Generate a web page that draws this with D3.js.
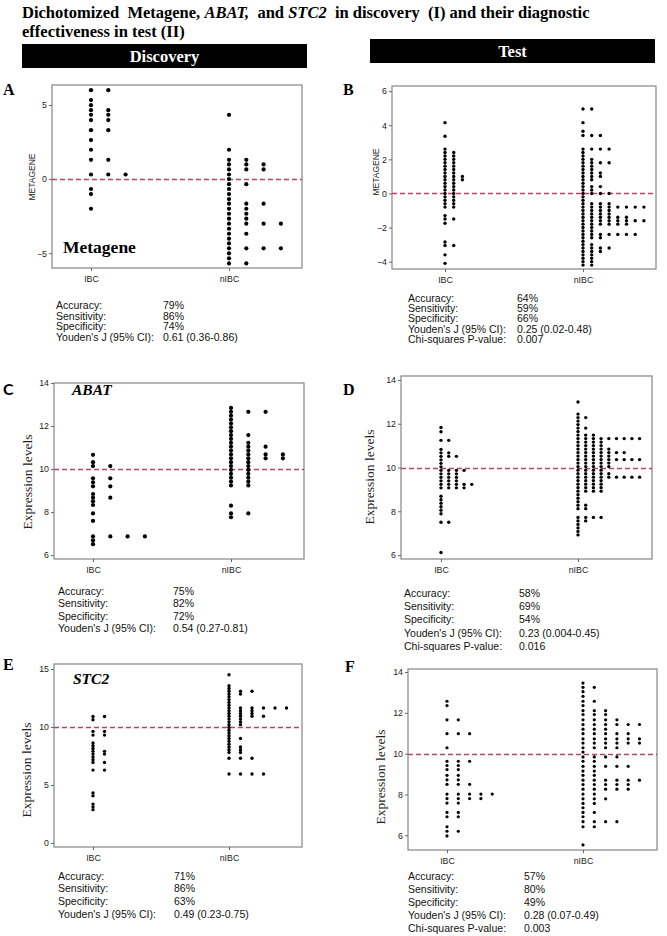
<!DOCTYPE html>
<html>
<head>
<meta charset="utf-8">
<script src="https://cdn.jsdelivr.net/npm/d3@7"></script>
<style>
  body { margin: 0; background: #fff; }
  text { white-space: pre; }
</style>
</head>
<body>
<svg id="fig"></svg>
<script>
const groups = ["IBC", "nIBC"];
const statLabels = ["Accuracy:", "Sensitivity:", "Specificity:", "Youden's J (95% CI):", "Chi-squares P-value:"];

// each dot plot row: [bin value, number of dots side by side]
const metaDiscIBC = [[6.0,2],[5.33,1],[4.99,1],[4.65,2],[4.34,2],[3.98,2],[3.30,2],[2.63,1],[1.98,1],[1.30,2],[0.31,3],[-0.67,1],[-1.01,1],[-2.0,1]];
const metaDiscNIBC = [[4.34,1],[1.98,1],[1.30,2],[0.99,3],[0.65,3],[0.31,1],[0.0,1],[-0.34,2],[-0.67,1],[-1.01,1],[-1.35,1],[-1.66,3],[-2.0,2],[-2.34,2],[-2.67,2],[-3.01,4],[-3.35,1],[-3.69,2],[-4.02,1],[-4.34,1],[-4.67,4],[-5.01,1],[-5.35,1],[-5.69,2]];
const metaTestIBC = [[4.15,1],[3.35,1],[2.6,1],[2.4,2],[2.2,2],[2.0,2],[1.8,2],[1.6,2],[1.4,2],[1.2,2],[1.0,3],[0.8,3],[0.6,2],[0.4,2],[0.2,2],[0.0,2],[-0.2,2],[-0.4,2],[-0.6,2],[-0.8,2],[-1.3,1],[-1.5,2],[-1.75,1],[-2.85,1],[-3.05,2],[-3.6,1],[-4.1,1]];
const metaTestNIBC = [[4.95,2],[4.15,1],[3.65,1],[3.4,3],[2.6,4],[2.4,1],[2.2,1],[2.0,2],[1.8,4],[1.6,2],[1.4,2],[1.2,3],[1.0,3],[0.8,2],[0.6,1],[0.4,3],[0.2,2],[0.0,4],[-0.2,1],[-0.4,1],[-0.6,4],[-0.8,8],[-1.0,4],[-1.2,4],[-1.4,6],[-1.6,8],[-1.8,6],[-2.0,2],[-2.2,2],[-2.4,7],[-2.6,3],[-2.8,1],[-3.0,2],[-3.2,4],[-3.4,3],[-3.6,2],[-3.8,2],[-4.0,2],[-4.2,2]];

const abatDiscIBC = [[10.66,1],[10.32,1],[10.14,2],[9.57,2],[9.38,1],[9.2,2],[8.84,1],[8.67,2],[8.5,1],[8.33,1],[7.94,1],[7.59,1],[6.87,4],[6.69,1],[6.51,1]];
const abatDiscNIBC = [[12.84,1],[12.66,3],[12.48,1],[12.30,1],[12.12,1],[11.94,1],[11.76,1],[11.58,2],[11.40,1],[11.22,2],[11.04,3],[10.86,2],[10.68,4],[10.50,4],[10.32,2],[10.14,2],[9.96,2],[9.78,2],[9.60,2],[9.42,2],[9.24,2],[8.3,1],[7.94,2],[7.76,1]];
const abatTestIBC = [[11.83,1],[11.63,1],[11.24,2],[10.83,1],[10.67,2],[10.51,3],[10.35,1],[10.19,1],[10.03,1],[9.87,4],[9.71,3],[9.55,3],[9.39,3],[9.23,5],[9.07,4],[8.69,1],[8.53,1],[8.37,1],[8.21,1],[8.05,1],[7.89,1],[7.5,2],[6.12,1]];
const abatTestNIBC = [[12.99,1],[12.44,1],[12.28,2],[12.12,1],[11.96,1],[11.80,2],[11.64,1],[11.48,3],[11.32,9],[11.16,4],[11.00,4],[10.84,5],[10.68,7],[10.52,5],[10.36,9],[10.20,5],[10.04,5],[9.88,4],[9.72,5],[9.56,9],[9.40,4],[9.24,4],[9.08,4],[8.92,4],[8.76,1],[8.60,1],[8.44,1],[8.28,2],[8.12,2],[7.72,4],[7.56,2],[7.40,1],[7.24,1],[7.08,1],[6.92,1]];

const stc2DiscIBC = [[10.9,2],[10.62,1],[9.62,2],[9.3,2],[8.62,1],[8.38,1],[8.14,1],[7.9,2],[7.66,2],[7.42,1],[7.18,1],[6.94,2],[6.28,2],[4.3,1],[4.06,1],[3.35,1],[3.11,1],[2.87,1]];
const stc2DiscNIBC = [[14.5,1],[13.56,1],[13.32,1],[13.08,3],[12.84,2],[12.60,1],[12.36,1],[12.12,1],[11.88,1],[11.64,6],[11.40,3],[11.16,3],[10.92,4],[10.68,2],[10.44,2],[10.20,2],[9.96,1],[9.72,1],[9.48,1],[9.24,1],[9.00,2],[8.76,1],[8.52,1],[8.28,2],[8.04,2],[7.80,2],[7.3,3],[5.95,4]];
const stc2TestIBC = [[12.57,1],[12.36,1],[11.66,2],[10.98,3],[10.29,1],[9.63,3],[9.42,2],[9.22,2],[8.94,2],[8.72,2],[8.5,3],[8.02,5],[7.8,4],[7.58,2],[7.12,2],[6.91,2],[6.42,1],[6.2,2],[5.97,1]];
const stc2TestNIBC = [[13.46,1],[13.25,2],[13.04,1],[12.81,1],[12.57,2],[12.36,1],[12.11,3],[11.92,3],[11.66,4],[11.43,6],[11.2,3],[10.98,5],[10.73,6],[10.52,6],[10.29,4],[10.08,1],[9.84,4],[9.63,2],[9.38,5],[9.15,2],[8.94,2],[8.7,6],[8.49,5],[8.26,5],[8.02,2],[7.79,3],[7.56,2],[7.35,1],[7.12,2],[6.91,1],[6.67,4],[6.42,2],[5.53,1]];

const statsA = ["79%", "86%", "74%", "0.61 (0.36-0.86)"];
const statsB = ["64%", "59%", "66%", "0.25 (0.02-0.48)", "0.007"];
const statsC = ["75%", "82%", "72%", "0.54 (0.27-0.81)"];
const statsD = ["58%", "69%", "54%", "0.23 (0.004-0.45)", "0.016"];
const statsE = ["71%", "86%", "63%", "0.49 (0.23-0.75)"];
const statsF = ["57%", "80%", "49%", "0.28 (0.07-0.49)", "0.003"];

const ticksMeta = [-5, 0, 5];
const ticksMetaTest = [-4, -2, 0, 2, 4, 6];
const ticksExpr = [6, 8, 10, 12, 14];
const ticksStc2 = [0, 5, 10, 15];

const serif = "'Liberation Serif', 'DejaVu Serif', serif";
const sans = "'Liberation Sans', Arial, sans-serif";

const panels = [
  { letter: "A", lx: 3, ly: 95, rows: [metaDiscIBC, metaDiscNIBC], frame: [52, 85, 302, 268], dom: [-6.0, 6.35],
    ticks: ticksMeta, cut: 0, centers: [91, 229], gap: 17.3, r: 2.1, ylab: "METAGENE", ylx: 32, yly: 177,
    stats: statsA, sx: [56, 163], sy: 309, sdy: 10.7,
    tag: { text: "Metagene", x: 63, y: 253, size: 17.5, italic: false } },
  { letter: "B", lx: 343, ly: 95, rows: [metaTestIBC, metaTestNIBC], frame: [392, 86, 656, 269], dom: [-4.43, 6.3],
    ticks: ticksMetaTest, cut: 0, centers: [445, 583], gap: 8.7, r: 1.7, ylab: "METAGENE", ylx: 376, yly: 172,
    stats: statsB, sx: [408, 517], sy: 301.5, sdy: 10.4 },
  { letter: "C", lx: 3, ly: 395, rows: [abatDiscIBC, abatDiscNIBC], frame: [54, 383, 304, 559], dom: [5.82, 14],
    ticks: ticksExpr, cut: 10, centers: [93, 231], gap: 17.3, r: 2.1, ylab: "Expression levels", ylx: 27, yly: 482,
    stats: statsC, sx: [58, 173], sy: 595, sdy: 12.3,
    tag: { text: "ABAT", x: 72, y: 395, size: 15.5, italic: true } },
  { letter: "D", lx: 343, ly: 395, rows: [abatTestIBC, abatTestNIBC], frame: [401, 376, 652, 559], dom: [5.82, 14.18],
    ticks: ticksExpr, cut: 10, centers: [441, 578], gap: 7.7, r: 1.7, ylab: "Expression levels", ylx: 369, yly: 477,
    stats: statsD, sx: [404, 519], sy: 597, sdy: 13.2 },
  { letter: "E", lx: 3, ly: 670, rows: [stc2DiscIBC, stc2DiscNIBC], frame: [54, 664, 302, 847], dom: [-0.35, 15.43],
    ticks: ticksStc2, cut: 10, centers: [93, 229], gap: 11.5, r: 1.7, ylab: "Expression levels", ylx: 26, yly: 770,
    stats: statsE, sx: [58, 174], sy: 879.5, sdy: 12.7,
    tag: { text: "STC2", x: 73, y: 684, size: 15.5, italic: true } },
  { letter: "F", lx: 345, ly: 672, rows: [stc2TestIBC, stc2TestNIBC], frame: [408, 669, 657, 850], dom: [5.28, 14.15],
    ticks: ticksExpr, cut: 10, centers: [447, 583], gap: 11.3, r: 1.6, ylab: "Expression levels", ylx: 380, yly: 777,
    stats: statsF, sx: [408, 524], sy: 879.5, sdy: 13.2 }
];

const svg = d3.select("#fig").attr("width", 667).attr("height", 936);

// title
const title = svg.append("g").attr("font-family", serif).attr("font-weight", "bold").attr("font-size", 16.5);
const t1 = title.append("text").attr("x", 22).attr("y", 18);
t1.append("tspan").text("Dichotomized  Metagene, ");
t1.append("tspan").attr("font-style", "italic").text("ABAT,");
t1.append("tspan").text("  and ");
t1.append("tspan").attr("font-style", "italic").text("STC2");
t1.append("tspan").text("  in discovery  (I) and their diagnostic");
title.append("text").attr("x", 22).attr("y", 37).text("effectiveness in test (II)");

// column headers
[{ t: "Discovery", x: 22, y: 44 }, { t: "Test", x: 370, y: 39 }].forEach(h => {
  svg.append("rect").attr("x", h.x).attr("y", h.y).attr("width", 285).attr("height", 24).attr("fill", "#000");
  svg.append("text").attr("x", h.x + 142.5).attr("y", h.y + 17.5).attr("text-anchor", "middle")
    .attr("font-family", serif).attr("font-weight", "bold").attr("font-size", 16.5).attr("fill", "#fff").text(h.t);
});

panels.forEach(p => {
  const [x0, y0, x1, y1] = p.frame;
  const g = svg.append("g");
  const y = d3.scaleLinear().domain(p.dom).range([y1, y0]);
  const x = d3.scalePoint().domain(groups).range(p.centers);

  g.append("rect").attr("x", x0).attr("y", y0).attr("width", x1 - x0).attr("height", y1 - y0)
    .attr("fill", "none").attr("stroke", "#858585").attr("stroke-width", 1.2);

  const yAxis = g.append("g").attr("transform", `translate(${x0},0)`)
    .call(d3.axisLeft(y).tickValues(p.ticks).tickSize(3).tickPadding(2));
  const xAxis = g.append("g").attr("transform", `translate(0,${y1})`)
    .call(d3.axisBottom(x).tickSize(3).tickPadding(5));
  [yAxis, xAxis].forEach(a => {
    a.select(".domain").remove();
    a.selectAll("line").attr("stroke", "#666");
    a.selectAll("text").attr("font-family", sans).attr("font-size", 8.8).attr("fill", "#222");
  });

  // cut-off line, snapped to the pixel grid so it keeps its colour
  const cy = Math.round(y(p.cut)) + 0.5;
  g.append("line").attr("x1", x0).attr("x2", x1).attr("y1", cy).attr("y2", cy)
    .attr("stroke", "#b8436d").attr("stroke-width", 1.3).attr("stroke-dasharray", "5,3");

  const dots = groups.flatMap((grp, gi) =>
    p.rows[gi].flatMap(([v, n]) => d3.range(n).map(k => ({ grp, v, k }))));
  g.append("g").selectAll("circle").data(dots).join("circle")
    .attr("cx", d => x(d.grp) + d.k * p.gap)
    .attr("cy", d => y(d.v))
    .attr("r", p.r)
    .attr("fill", "#000");

  const isMeta = p.ylab === "METAGENE";
  g.append("text").attr("transform", `translate(${p.ylx},${p.yly}) rotate(-90)`)
    .attr("text-anchor", "middle").attr("dominant-baseline", "central")
    .attr("font-family", isMeta ? sans : serif).attr("font-size", isMeta ? 8.5 : 13.5).attr("fill", "#222")
    .text(p.ylab);

  svg.append("text").attr("x", p.lx).attr("y", p.ly)
    .attr("font-family", p.letter === "C" ? "Lato, 'Open Sans', sans-serif" : serif)
    .attr("font-weight", "bold").attr("font-size", 16).text(p.letter);

  if (p.tag) {
    g.append("text").attr("x", p.tag.x).attr("y", p.tag.y)
      .attr("font-family", serif).attr("font-weight", "bold").attr("font-size", p.tag.size)
      .attr("font-style", p.tag.italic ? "italic" : "normal").text(p.tag.text);
  }

  const st = g.append("g").attr("font-family", sans).attr("font-size", 10.5).attr("fill", "#111");
  p.stats.forEach((v, i) => {
    const yy = p.sy + i * p.sdy;
    st.append("text").attr("x", p.sx[0]).attr("y", yy).text(statLabels[i]);
    st.append("text").attr("x", p.sx[1]).attr("y", yy).text(v);
  });
});
</script>
</body>
</html>
